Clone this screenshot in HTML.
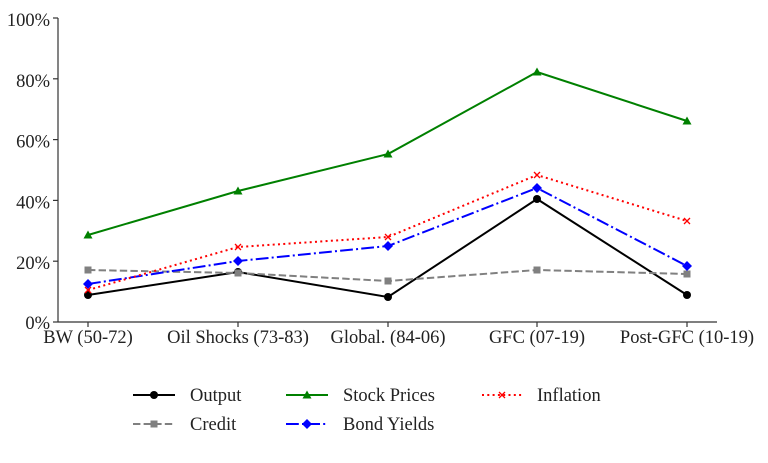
<!DOCTYPE html>
<html>
<head>
<meta charset="utf-8">
<style>
html,body{margin:0;padding:0;background:#fff;}
svg{display:block;}
text{font-family:"Liberation Serif","DejaVu Serif",serif;font-size:18.5px;fill:#222;}
</style>
</head>
<body>
<svg width="768" height="463" viewBox="0 0 768 463" xmlns="http://www.w3.org/2000/svg">
  <!-- axes -->
  <g stroke="#333" stroke-width="1.2" fill="none">
    <line x1="58" y1="18" x2="58" y2="322"/>
    <line x1="58" y1="322" x2="717" y2="322"/>
    <!-- y ticks -->
    <line x1="53" y1="18" x2="58" y2="18"/>
    <line x1="53" y1="78.8" x2="58" y2="78.8"/>
    <line x1="53" y1="139.6" x2="58" y2="139.6"/>
    <line x1="53" y1="200.4" x2="58" y2="200.4"/>
    <line x1="53" y1="261.2" x2="58" y2="261.2"/>
    <line x1="53" y1="322" x2="58" y2="322"/>
    <!-- x ticks -->
    <line x1="88" y1="322" x2="88" y2="327"/>
    <line x1="238" y1="322" x2="238" y2="327"/>
    <line x1="388" y1="322" x2="388" y2="327"/>
    <line x1="537" y1="322" x2="537" y2="327"/>
    <line x1="687" y1="322" x2="687" y2="327"/>
  </g>
  <!-- y labels -->
  <g text-anchor="end">
    <text x="50" y="26">100%</text>
    <text x="50" y="86.8">80%</text>
    <text x="50" y="147.6">60%</text>
    <text x="50" y="208.4">40%</text>
    <text x="50" y="269.2">20%</text>
    <text x="50" y="329">0%</text>
  </g>
  <!-- x labels -->
  <g text-anchor="middle">
    <text x="88" y="343">BW (50-72)</text>
    <text x="238" y="343">Oil Shocks (73-83)</text>
    <text x="388" y="343">Global. (84-06)</text>
    <text x="537" y="343">GFC (07-19)</text>
    <text x="687" y="343">Post-GFC (10-19)</text>
  </g>

  <!-- Output -->
  <polyline points="88,295 238,272 388,297 537,199 687,295" fill="none" stroke="#000" stroke-width="2"/>
  <g fill="#000">
    <circle cx="88" cy="295" r="4"/><circle cx="238" cy="272" r="4"/><circle cx="388" cy="297" r="4"/><circle cx="537" cy="199" r="4"/><circle cx="687" cy="295" r="4"/>
  </g>
  <!-- Credit -->
  <polyline points="88,270 238,273 388,281 537,270 687,274" fill="none" stroke="#808080" stroke-width="2" stroke-dasharray="7.4,3.2"/>
  <g fill="#808080">
    <rect x="84.5" y="266.5" width="7" height="7"/><rect x="234.5" y="269.5" width="7" height="7"/><rect x="384.5" y="277.5" width="7" height="7"/><rect x="533.5" y="266.5" width="7" height="7"/><rect x="683.5" y="270.5" width="7" height="7"/>
  </g>
  <!-- Stock Prices -->
  <polyline points="88,235 238,191 388,154 537,72 687,121" fill="none" stroke="#008000" stroke-width="2"/>
  <g fill="#008000">
    <polygon points="88,230.5 92.5,238.5 83.5,238.5"/>
    <polygon points="238,186.5 242.5,194.5 233.5,194.5"/>
    <polygon points="388,149.5 392.5,157.5 383.5,157.5"/>
    <polygon points="537,67.5 541.5,75.5 532.5,75.5"/>
    <polygon points="687,116.5 691.5,124.5 682.5,124.5"/>
  </g>
  <!-- Bond Yields -->
  <polyline points="88,284 238,261 388,246 537,188 687,266" fill="none" stroke="#0000ff" stroke-width="2" stroke-dasharray="12.8,3.2,2,3.2"/>
  <g fill="#0000ff">
    <polygon points="88,279 93,284 88,289 83,284"/>
    <polygon points="238,256 243,261 238,266 233,261"/>
    <polygon points="388,241 393,246 388,251 383,246"/>
    <polygon points="537,183 542,188 537,193 532,188"/>
    <polygon points="687,261 692,266 687,271 682,266"/>
  </g>
  <!-- Inflation -->
  <polyline points="88,290 238,247 388,237 537,175 687,221" fill="none" stroke="#ff0000" stroke-width="2" stroke-dasharray="2,3.3"/>
  <g stroke="#ff0000" stroke-width="1.3">
    <path d="M85,287 l6,6 M91,287 l-6,6"/>
    <path d="M235,244 l6,6 M241,244 l-6,6"/>
    <path d="M385,234 l6,6 M391,234 l-6,6"/>
    <path d="M534,172 l6,6 M540,172 l-6,6"/>
    <path d="M684,218 l6,6 M690,218 l-6,6"/>
  </g>

  <!-- Legend -->
  <line x1="133" y1="395" x2="175" y2="395" stroke="#000" stroke-width="2"/>
  <circle cx="154" cy="395" r="4" fill="#000"/>
  <text x="190" y="401">Output</text>

  <line x1="133" y1="424" x2="175" y2="424" stroke="#808080" stroke-width="2" stroke-dasharray="7.4,3.2"/>
  <rect x="150.5" y="420.5" width="7" height="7" fill="#808080"/>
  <text x="190" y="430">Credit</text>

  <line x1="286" y1="395" x2="328" y2="395" stroke="#008000" stroke-width="2"/>
  <polygon points="307,390.5 311.5,398.5 302.5,398.5" fill="#008000"/>
  <text x="343" y="401">Stock Prices</text>

  <line x1="286" y1="424" x2="328" y2="424" stroke="#0000ff" stroke-width="2" stroke-dasharray="12.8,3.2,2,3.2"/>
  <polygon points="307,419 312,424 307,429 302,424" fill="#0000ff"/>
  <text x="343" y="430">Bond Yields</text>

  <line x1="482" y1="395" x2="522" y2="395" stroke="#ff0000" stroke-width="2" stroke-dasharray="2,3.3"/>
  <path d="M499,392 l6,6 M505,392 l-6,6" stroke="#ff0000" stroke-width="1.3"/>
  <text x="537" y="401">Inflation</text>
</svg>
</body>
</html>
